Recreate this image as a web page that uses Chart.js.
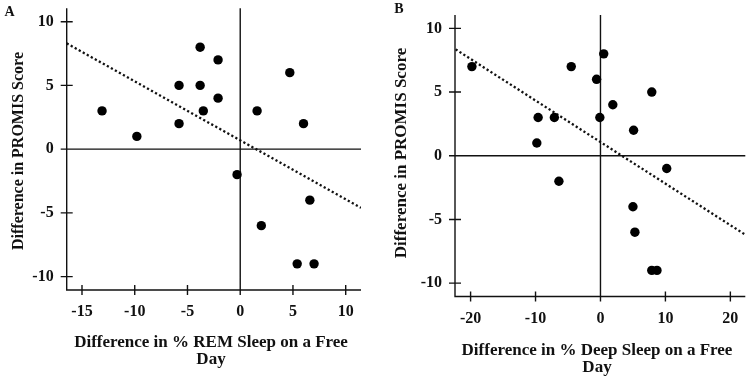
<!DOCTYPE html>
<html>
<head>
    <meta charset="utf-8">
    <title>PROMIS vs sleep differences</title>
    <script src="https://cdn.jsdelivr.net/npm/chart.js@4.4.0/dist/chart.umd.min.js"></script>
    <style>
        body { margin: 0; background: #fff; }
        .panel { position: absolute; top: 0; width: 375px; height: 378px; }
        #pa { left: 0; }
        #pb { left: 375px; }
    </style>
</head>
<body>
    <div class="panel" id="pa"><canvas id="c1" width="375" height="378"></canvas></div>
    <div class="panel" id="pb"><canvas id="c2" width="375" height="378"></canvas></div>

    <script>
        // panel A: REM sleep
        var remX = [-13.1, -9.8, -5.8, -5.8, -3.8, -3.8, -3.5, -2.1, -2.1, -0.3, 1.6, 2.0, 4.7, 6.0, 6.6, 5.4, 7.0];
        var remY = [3, 1, 5, 2, 8, 5, 3, 7, 4, -2, 3, -6, 6, 2, -4, -9, -9];
        var remFitX = [-16.45, 11.45];
        var remFitY = [8.3, -4.6];
        var remTicksX = [-15, -10, -5, 0, 5, 10];

        // panel B: deep sleep
        var deepX = [-19.8, -9.6, -9.8, -7.1, -6.4, -4.5, -0.6, 0.5, -0.1, 1.9, 5.1, 7.9, 10.2, 5.0, 5.3, 7.9, 8.7];
        var deepY = [7, 3, 1, 3, -2, 7, 6, 8, 3, 4, 2, 5, -1, -4, -6, -9, -9];
        var deepFitX = [-22.3, 22.3];
        var deepFitY = [8.35, -6.2];
        var deepTicksX = [-20, -10, 0, 10, 20];

        var promisTicks = [-10, -5, 0, 5, 10];

        var serif = '"Liberation Serif", "Times New Roman", serif';

        function pairs(xs, ys) {
            return xs.map(function(x, i) { return { x: x, y: ys[i] }; });
        }

        // axis lines, zero lines and crossing tick marks
        var framePlugin = {
            id: 'frame',
            beforeDatasetsDraw: function(chart) {
                var ctx = chart.ctx, a = chart.chartArea;
                var xs = chart.scales.x, ys = chart.scales.y;
                var x0 = xs.getPixelForValue(0), y0 = ys.getPixelForValue(0);
                ctx.save();
                ctx.strokeStyle = '#111';
                ctx.lineWidth = 1.4;
                ctx.beginPath();
                ctx.moveTo(a.left, a.top); ctx.lineTo(a.left, a.bottom); ctx.lineTo(a.right, a.bottom);
                ctx.moveTo(x0, a.top); ctx.lineTo(x0, a.bottom);
                ctx.moveTo(a.left, y0); ctx.lineTo(a.right, y0);
                xs.ticks.forEach(function(t) {
                    var p = xs.getPixelForValue(t.value);
                    ctx.moveTo(p, a.bottom - 5); ctx.lineTo(p, a.bottom + 5);
                });
                ys.ticks.forEach(function(t) {
                    var p = ys.getPixelForValue(t.value);
                    ctx.moveTo(a.left - 6, p); ctx.lineTo(a.left + 6, p);
                });
                ctx.stroke();
                ctx.restore();
            },
            afterDraw: function(chart, args, opts) {
                var ctx = chart.ctx;
                ctx.save();
                ctx.fillStyle = '#111';
                ctx.textAlign = 'center';
                ctx.textBaseline = 'alphabetic';
                ctx.font = 'bold ' + opts.titleSize + 'px ' + serif;
                opts.xTitle.forEach(function(line, i) {
                    ctx.fillText(line, opts.xTitleX, opts.xTitleY + i * opts.lineGap);
                });
                ctx.save();
                ctx.translate(opts.yTitleX, opts.yTitleY);
                ctx.rotate(-Math.PI / 2);
                ctx.textBaseline = 'middle';
                ctx.font = 'bold ' + opts.yTitleSize + 'px ' + serif;
                ctx.fillText(opts.yTitle, 0, 0);
                ctx.restore();
                ctx.textBaseline = 'middle';
                ctx.font = 'bold ' + opts.labelSize + 'px ' + serif;
                ctx.fillText(opts.label, opts.labelX, opts.labelY);
                ctx.restore();
            }
        };

        function makeChart(id, xs, ys, fitX, fitY, xTicks, cfg) {
            return new Chart(document.getElementById(id), {
                type: 'scatter',
                data: {
                    datasets: [{
                        data: pairs(xs, ys),
                        backgroundColor: '#000',
                        borderWidth: 0,
                        pointRadius: 4.7
                    }, {
                        type: 'line',
                        data: pairs(fitX, fitY),
                        borderColor: '#111',
                        borderWidth: 2.3,
                        borderDash: [2.2, 2.4],
                        pointRadius: 0,
                        fill: false
                    }]
                },
                options: {
                    responsive: false,
                    animation: false,
                    devicePixelRatio: 1,
                    layout: { padding: cfg.padding },
                    plugins: {
                        legend: { display: false },
                        tooltip: { enabled: false },
                        frame: cfg.frame
                    },
                    scales: {
                        x: {
                            type: 'linear',
                            min: cfg.xMin, max: cfg.xMax,
                            grid: { display: false, drawTicks: false },
                            border: { display: false },
                            afterBuildTicks: function(s) { s.ticks = xTicks.map(function(v) { return { value: v }; }); },
                            afterFit: function(s) { s.height = cfg.xHeight; s.paddingLeft = 0; s.paddingRight = 0; },
                            ticks: { color: '#111', padding: cfg.xPad, maxRotation: 0, font: { family: serif, size: 16, weight: 'bold' } }
                        },
                        y: {
                            type: 'linear',
                            min: -11.05, max: 11.05,
                            grid: { display: false, drawTicks: false },
                            border: { display: false },
                            afterBuildTicks: function(s) { s.ticks = promisTicks.map(function(v) { return { value: v }; }); },
                            afterFit: function(s) { s.width = cfg.yWidth; s.paddingTop = 0; s.paddingBottom = 0; },
                            ticks: { color: '#111', padding: cfg.yPad, font: { family: serif, size: 16, weight: 'bold' } }
                        }
                    }
                },
                plugins: [framePlugin]
            });
        }

        makeChart('c1', remX, remY, remFitX, remFitY, remTicksX, {
            xMin: -16.45, xMax: 11.45,
            padding: { left: 0, top: 8.3, right: 14, bottom: 0 },
            yWidth: 66.7, xHeight: 88, xPad: 12, yPad: 13,
            frame: {
                xTitle: ['Difference in % REM Sleep on a Free', 'Day'],
                xTitleX: 211, xTitleY: 347, lineGap: 17, titleSize: 17,
                yTitle: 'Difference in PROMIS Score', yTitleX: 18.5, yTitleY: 151, yTitleSize: 16,
                label: 'A', labelX: 9.5, labelY: 12, labelSize: 14
            }
        });

        makeChart('c2', deepX, deepY, deepFitX, deepFitY, deepTicksX, {
            xMin: -22.4, xMax: 22.3,
            padding: { left: 0, top: 15, right: 2, bottom: 0 },
            yWidth: 80, xHeight: 81.5, xPad: 13, yPad: 13,
            frame: {
                xTitle: ['Difference in % Deep Sleep on a Free', 'Day'],
                xTitleX: 222, xTitleY: 355, lineGap: 17, titleSize: 17,
                yTitle: 'Difference in PROMIS Score', yTitleX: 27, yTitleY: 153, yTitleSize: 17,
                label: 'B', labelX: 24, labelY: 9.5, labelSize: 14
            }
        });
    </script>
</body>
</html>
